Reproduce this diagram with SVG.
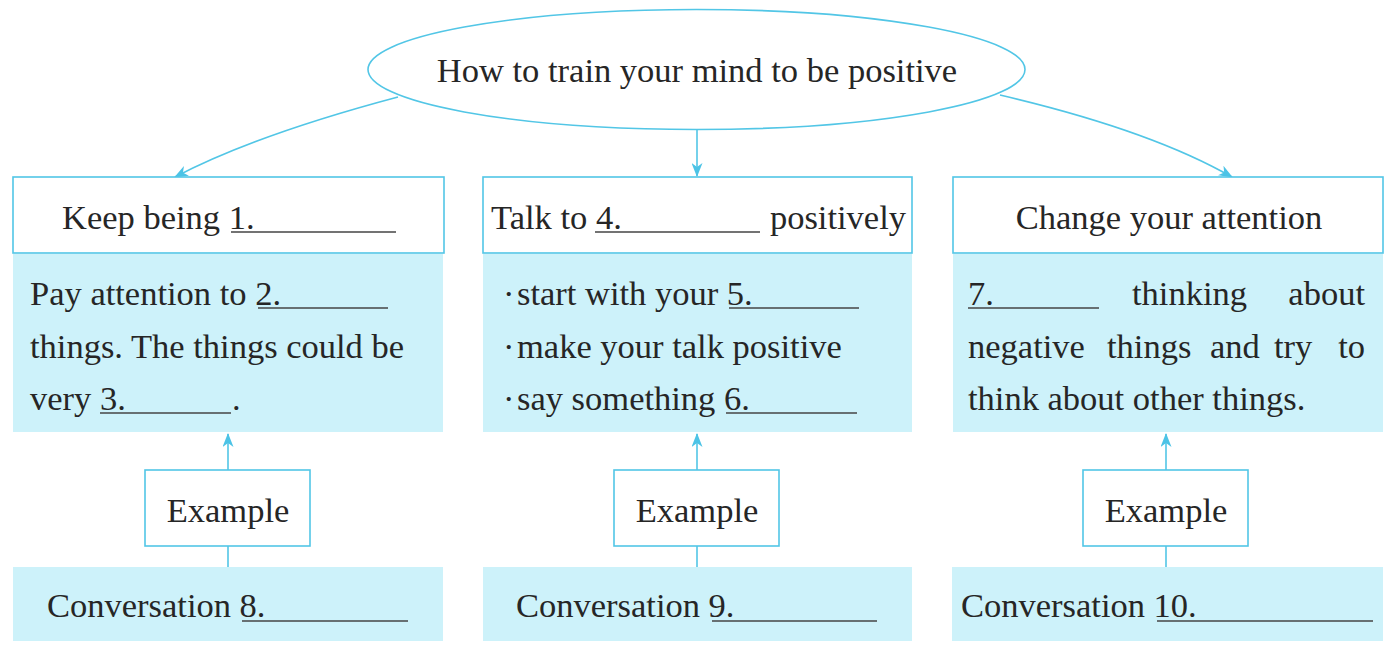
<svg xmlns="http://www.w3.org/2000/svg" width="1391" height="652" viewBox="0 0 1391 652">
<style>
.t{font-family:"Liberation Serif","Times New Roman",serif;font-size:34.5px;fill:#262626}
.box{fill:#fff;stroke:#52c6e6;stroke-width:1.6}
.panel{fill:#cdf2fa}
.ul{stroke:#444;stroke-width:1.3}
.con{fill:none;stroke:#52c6e6;stroke-width:1.6}
</style>
<defs>
<marker id="ah" viewBox="0 0 14 11" refX="13" refY="5.5" markerWidth="14" markerHeight="11" markerUnits="userSpaceOnUse" orient="auto">
<path d="M0,0 L14,5.5 L0,11 L4,5.5 Z" fill="#4cc3e6"/>
</marker>
</defs>
<rect width="1391" height="652" fill="#fff"/>

<g id="connectors">
<path class="con" d="M398,97 Q255,135 175,177" marker-end="url(#ah)"/>
<path class="con" d="M697,130 L697,176" marker-end="url(#ah)"/>
<path class="con" d="M1000,95 Q1150,130 1232,177" marker-end="url(#ah)"/>
<path class="con" d="M228,470 L228,434" marker-end="url(#ah)"/>
<path class="con" d="M228,546 L228,567"/>
<path class="con" d="M697,470 L697,434" marker-end="url(#ah)"/>
<path class="con" d="M697,546 L697,567"/>
<path class="con" d="M1166,470 L1166,434" marker-end="url(#ah)"/>
<path class="con" d="M1166,546 L1166,567"/>
</g>

<g id="title">
<ellipse cx="696.5" cy="69.5" rx="328.5" ry="60" fill="#fff" stroke="#52c6e6" stroke-width="1.6"/>
<text class="t" x="697" y="82" text-anchor="middle">How to train your mind to be positive</text>
</g>

<g id="head1">
<rect class="box" x="13" y="177" width="431" height="76"/>
<text class="t" x="62" y="229">Keep being 1.</text>
<line class="ul" x1="231" y1="232" x2="396" y2="232"/>
</g>
<g id="head2">
<rect class="box" x="483" y="177" width="429" height="76"/>
<text class="t" x="491" y="229">Talk to 4.</text>
<line class="ul" x1="595" y1="232" x2="760" y2="232"/>
<text class="t" x="906" y="229" text-anchor="end">positively</text>
</g>
<g id="head3">
<rect class="box" x="953" y="177" width="430" height="76"/>
<text class="t" x="1169" y="229" text-anchor="middle">Change your attention</text>
</g>

<g id="panel1">
<rect class="panel" x="13" y="254" width="430" height="178"/>
<text class="t" x="30" y="305">Pay attention to 2.</text>
<line class="ul" x1="258" y1="308" x2="388" y2="308"/>
<text class="t" x="30" y="358">things. The things could be</text>
<text class="t" x="30" y="410">very 3.</text>
<line class="ul" x1="100" y1="413" x2="231" y2="413"/>
<text class="t" x="232" y="410">.</text>
</g>
<g id="panel2">
<rect class="panel" x="483" y="254" width="429" height="178"/>
<text class="t" x="503" y="305">·</text>
<text class="t" x="517" y="305">start with your 5.</text>
<line class="ul" x1="729" y1="308" x2="859" y2="308"/>
<text class="t" x="503" y="358">·</text>
<text class="t" x="517" y="358">make your talk positive</text>
<text class="t" x="503" y="410">·</text>
<text class="t" x="517" y="410">say something 6.</text>
<line class="ul" x1="726" y1="413" x2="857" y2="413"/>
</g>
<g id="panel3">
<rect class="panel" x="953" y="254" width="430" height="178"/>
<text class="t" x="968" y="305">7.</text>
<line class="ul" x1="968" y1="308" x2="1099" y2="308"/>
<text class="t" x="1132" y="305">thinking</text>
<text class="t" x="1365" y="305" text-anchor="end">about</text>
<text class="t" x="968" y="358">negative</text>
<text class="t" x="1107" y="358">things</text>
<text class="t" x="1210" y="358">and</text>
<text class="t" x="1274" y="358">try</text>
<text class="t" x="1365" y="358" text-anchor="end">to</text>
<text class="t" x="968" y="410">think about other things.</text>
</g>

<g id="example1">
<rect class="box" x="145" y="470" width="165" height="76"/>
<text class="t" x="228" y="522" text-anchor="middle">Example</text>
</g>
<g id="example2">
<rect class="box" x="614" y="470" width="165" height="76"/>
<text class="t" x="697" y="522" text-anchor="middle">Example</text>
</g>
<g id="example3">
<rect class="box" x="1083" y="470" width="165" height="76"/>
<text class="t" x="1166" y="522" text-anchor="middle">Example</text>
</g>

<g id="conv1">
<rect class="panel" x="13" y="567" width="430" height="74"/>
<text class="t" x="47" y="617">Conversation 8.</text>
<line class="ul" x1="242" y1="621" x2="408" y2="621"/>
</g>
<g id="conv2">
<rect class="panel" x="483" y="567" width="429" height="74"/>
<text class="t" x="516" y="617">Conversation 9.</text>
<line class="ul" x1="712" y1="621" x2="877" y2="621"/>
</g>
<g id="conv3">
<rect class="panel" x="952" y="567" width="431" height="74"/>
<text class="t" x="961" y="617">Conversation 10.</text>
<line class="ul" x1="1157" y1="621" x2="1373" y2="621"/>
</g>
</svg>
